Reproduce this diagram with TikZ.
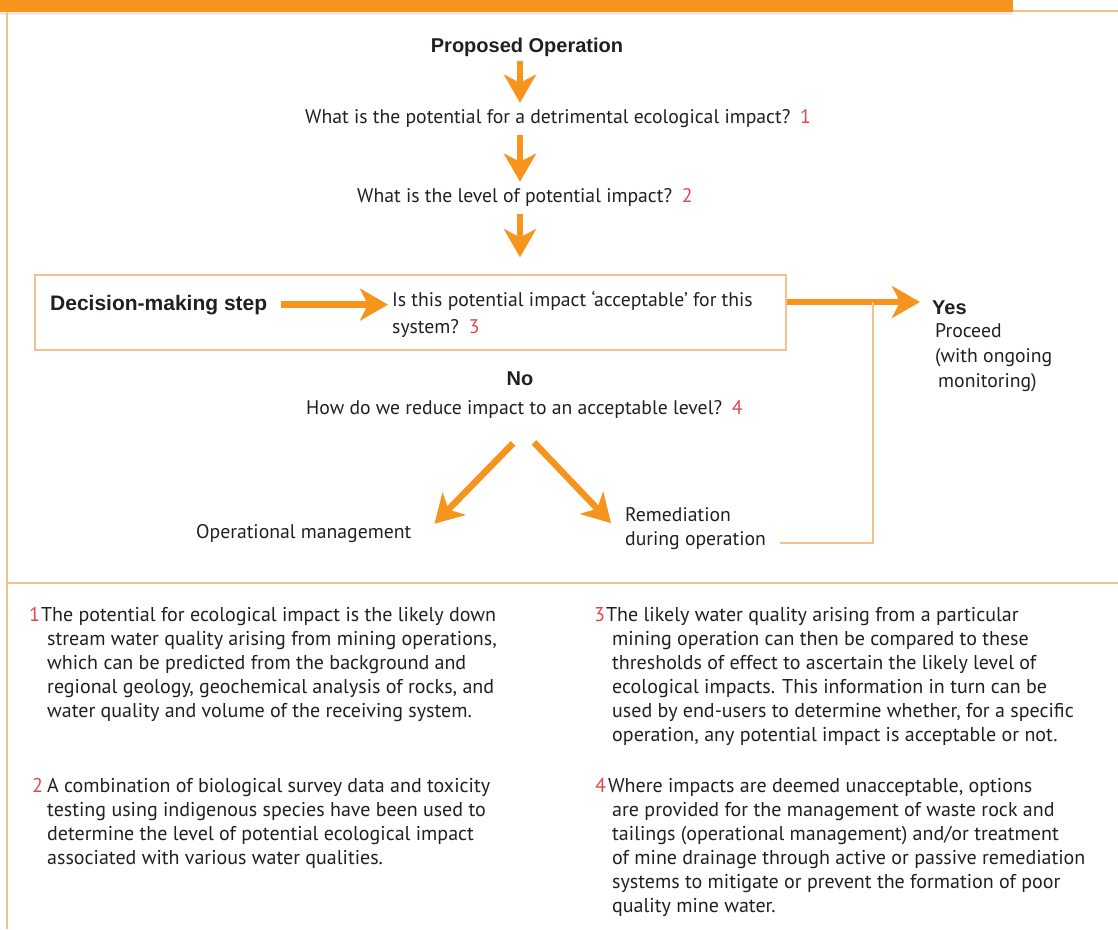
\documentclass[tikz,border=0pt]{standalone}
\usepackage{fontspec}
\setmainfont{PT Sans}
\newfontfamily\hvfont{Liberation Sans}
\usetikzlibrary{arrows.meta}
\definecolor{org}{HTML}{F7941E}
\definecolor{lorg}{HTML}{F7C08A}
\definecolor{rednum}{HTML}{E0474C}
\definecolor{txt}{HTML}{231F20}
\newcommand{\rn}[1]{\textcolor{rednum}{#1}}
\newcommand{\lstrut}{\rule{0pt}{16pt}}
\begin{document}
\begin{tikzpicture}[x=1pt,y=-1pt,
  body/.style={font=\fontsize{19.7}{24}\selectfont, text=txt, inner sep=0pt, anchor=base west},
  notefont/.style={font=\fontsize{20}{24}\selectfont, text=txt, inner sep=0pt},
  head/.style={font=\hvfont\bfseries\fontsize{20}{24}\selectfont, text=txt, inner sep=0pt},
  bigarrow/.style={draw=org, line width=6.5pt, -{Stealth[length=28pt,width=32pt,inset=8pt]}},
  thinline/.style={draw=lorg, line width=1.5pt}]
\useasboundingbox (0,0) rectangle (1118,929);
% frame
\fill[black!8] (0,12) rectangle (1013,15);
\fill[org] (0,0) rectangle (1013,12);
\draw[thinline] (1013,11) -- (1118,11);
\draw[thinline] (7,12) -- (7,929);
\draw[thinline] (7,583) -- (1118,583);

% flow
\node[head, anchor=base] (po) at (527,52) {Proposed Operation};
\node[body] (q1) at (305,123) {What is the potential for a detrimental ecological impact?\hspace{0.5em}\rn{1}};
\node[body] (q2) at (357,202) {What is the level of potential impact?\hspace{0.5em}\rn{2}};
\node[draw=lorg, line width=1.5pt, minimum width=751pt, minimum height=75pt, inner sep=0pt] (box) at (410.5,312.5) {};
\node[head, font=\hvfont\bfseries\fontsize{21}{24}\selectfont, anchor=base west] (dm) at (50,310) {Decision-making step};
\node[body] (acc) at (392,306) {Is this potential impact \textquoteleft acceptable\textquoteright\ for this};
\node[body] (acc2) at (392,333) {system?\hspace{0.5em}\rn{3}};
\node[head, anchor=base west] (yes) at (932,314) {Yes};
\node[body] (pr1) at (935,337) {Proceed};
\node[body] (pr2) at (935,362) {(with ongoing};
\node[body] (pr3) at (938,387) {monitoring)};
\node[head, anchor=base] (no) at (520,385) {No};
\node[body] (q4) at (306,414) {How do we reduce impact to an acceptable level?\hspace{0.5em}\rn{4}};
\node[body] (om) at (196,538) {Operational management};
\node[body] (rem1) at (625,521) {Remediation};
\node[body] (rem2) at (625,545) {during operation};
\coordinate (fb) at (873,302);

\draw[bigarrow, shorten <=5pt, shorten >=6pt] ([xshift=-7pt]po.south) -- ([xshift=-7pt]po.south |- q1.north);
\draw[bigarrow, shorten <=8pt, shorten >=6pt] ([xshift=-7pt]po.south |- q1.south) -- ([xshift=-7pt]po.south |- q2.north);
\draw[bigarrow, shorten <=8pt, shorten >=17pt] ([xshift=-7pt]po.south |- q2.south) -- ([xshift=-7pt]po.south |- box.north);
\draw[bigarrow, shorten <=14pt, shorten >=4pt] (dm.east) -- (dm.east -| acc.west);
\draw[bigarrow, shorten >=12pt] ([yshift=10.5pt]box.east) -- ([yshift=10.5pt]box.east -| yes.west);
\draw[bigarrow] ([xshift=-7pt,yshift=-58pt]no.south) -- ([xshift=23pt]om.north east);
\draw[bigarrow] ([xshift=14pt,yshift=-57pt]no.south) -- ([xshift=-14pt,yshift=-9pt]rem1.west);
\draw[thinline] ([xshift=14pt,yshift=-3pt]rem2.east) -| (fb);

% notes
\node[notefont, anchor=base west] (n1) at (29,621) {\rn{1}\hspace{1pt}The potential for ecological impact is the likely down};
\node[notefont, align=left, anchor=north west] (t1) at (47,629) {\lstrut stream water quality arising from mining operations,\\which can be predicted from the background and\\regional geology, geochemical analysis of rocks, and\\water quality and volume of the receiving system.};
\node[notefont, anchor=base west] (n2) at (32,792) {\rn{2}\hspace{4pt}A combination of biological survey data and toxicity};
\node[notefont, align=left, anchor=north west] (t2) at (47,800) {\lstrut testing using indigenous species have been used to\\determine the level of potential ecological impact\\associated with various water qualities.};
\node[notefont, anchor=base west] (n3) at (594,621) {\rn{3}\hspace{1pt}The likely water quality arising from a particular};
\node[notefont, align=left, anchor=north west] (t3) at (612,629) {\lstrut mining operation can then be compared to these\\thresholds of effect to ascertain the likely level of\\ecological impacts. This information in turn can be\\used by end-users to determine whether, for a specific\\operation, any potential impact is acceptable or not.};
\node[notefont, anchor=base west] (n4) at (595,792) {\rn{4}\hspace{2pt}Where impacts are deemed unacceptable, options};
\node[notefont, align=left, anchor=north west] (t4) at (612,800) {\lstrut are provided for the management of waste rock and\\tailings (operational management) and/or treatment\\of mine drainage through active or passive remediation\\systems to mitigate or prevent the formation of poor\\quality mine water.};
\end{tikzpicture}
\end{document}
